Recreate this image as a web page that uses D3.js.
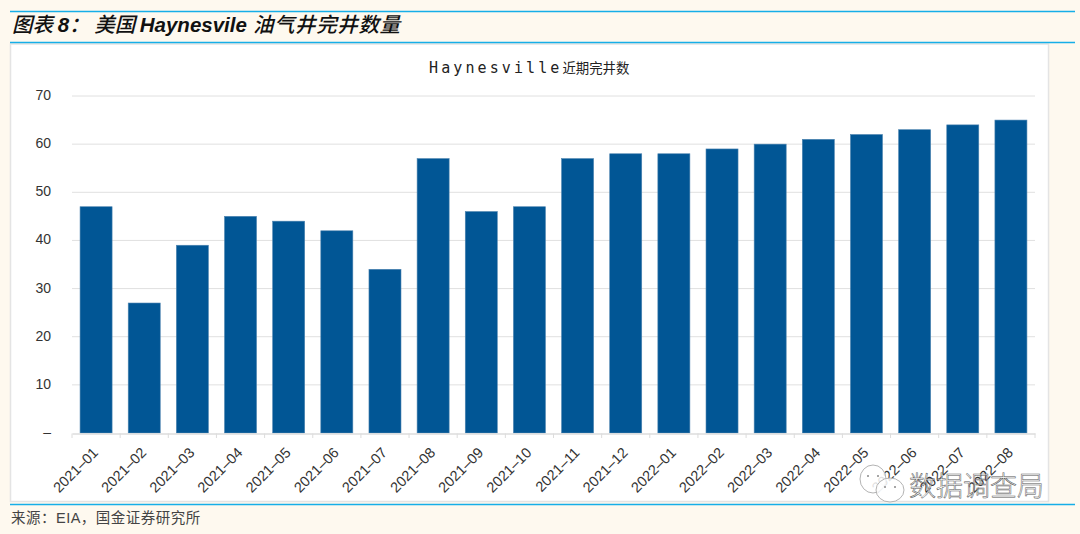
<!DOCTYPE html>
<html><head><meta charset="utf-8">
<script src="https://d3js.org/d3.v7.min.js"></script>
<style>html,body{margin:0;padding:0;background:#fef9ef;overflow:hidden}svg{display:block}</style>
</head><body><div id="c"></div>
<script>
const categories=["2021-01","2021-02","2021-03","2021-04","2021-05","2021-06","2021-07","2021-08","2021-09","2021-10","2021-11","2021-12","2022-01","2022-02","2022-03","2022-04","2022-05","2022-06","2022-07","2022-08"];
const values=[47,27,39,45,44,42,34,57,46,47,57,58,58,59,60,61,62,63,64,65];
const yTicks=[0,10,20,30,40,50,60,70];
const W=1080,H=534;
const CJK='"Noto Sans CJK SC"',LAT='"Liberation Sans"';
const svg=d3.select("#c").append("svg").attr("width",W).attr("height",H);
svg.append("rect").attr("width",W).attr("height",H).attr("fill","#fef9ef");
svg.append("rect").attr("x",10.5).attr("y",44).attr("width",1038).attr("height",457.5).attr("fill","#fff").attr("stroke","#e4e4e4").attr("stroke-width",1.5);
[11.5,42.5,504.5].forEach(y=>svg.append("line").attr("x1",10).attr("x2",1075).attr("y1",y).attr("y2",y).attr("stroke","#16aee8").attr("stroke-width",1.4));

const x=d3.scaleBand().domain(categories).range([72,1035]).paddingInner(0.335).paddingOuter(0.1675);
const y=d3.scaleLinear().domain([0,70]).range([433,96]);

svg.append("g").selectAll("line").data(yTicks.filter(d=>d>0)).join("line")
 .attr("x1",72).attr("x2",1035).attr("y1",d=>y(d)).attr("y2",d=>y(d)).attr("stroke","#e0e0e0").attr("stroke-width",1);

svg.append("g").selectAll("rect").data(values).join("rect")
 .attr("x",(d,i)=>x(categories[i])).attr("y",d=>y(d)).attr("width",x.bandwidth()).attr("height",d=>y(0)-y(d))
 .attr("fill","#015695").attr("stroke","#4d84b0").attr("stroke-width",.6);

const ya=d3.axisLeft(y).tickValues(yTicks).tickSize(0).tickPadding(0).tickFormat(d=>d===0?"–":d);
const gy=svg.append("g").attr("transform","translate(51,-1)").call(ya);
gy.select(".domain").remove();
gy.selectAll("text").attr("font-family",LAT).attr("font-size",14).attr("fill","#333").attr("text-anchor","end");

const xa=d3.axisBottom(x).tickSize(0).tickPadding(0).tickFormat(d=>d.replace("-","–"));
const gx=svg.append("g").attr("transform","translate(0,433.5)").call(xa);
gx.select(".domain").attr("stroke","#dcdcdc").attr("stroke-width",1.3);
const step=x.step();
svg.append("g").selectAll("line").data(d3.range(categories.length+1)).join("line")
 .attr("x1",i=>72+i*step).attr("x2",i=>72+i*step).attr("y1",433.5).attr("y2",438).attr("stroke","#dcdcdc").attr("stroke-width",1);
gx.selectAll("text").attr("font-family",LAT).attr("font-size",14.5).attr("fill","#333")
 .attr("text-anchor","end").attr("dy",0)
 .attr("transform","translate(3,20) rotate(-45)");

const t=svg.append("text").attr("x",429).attr("y",73).attr("fill","#222");
t.append("tspan").attr("font-family",'"DejaVu Sans Mono"').attr("font-size",15).attr("letter-spacing",3.1).text("Haynesville");
t.append("tspan").attr("font-family",CJK).attr("font-size",13.4).text("近期完井数");

const head=svg.append("text").attr("x",12).attr("y",32).attr("font-size",20.5).attr("font-style","italic").attr("fill","#111");
head.append("tspan").attr("font-family",CJK).attr("font-weight",500).text("图表 ");
head.append("tspan").attr("font-family",LAT).attr("font-weight",700).text("8");
head.append("tspan").attr("font-family",CJK).attr("font-weight",500).text("： 美国 ");
head.append("tspan").attr("font-family",LAT).attr("font-weight",700).text("Haynesvile");
head.append("tspan").attr("font-family",CJK).attr("font-weight",500).attr("dx",6).attr("letter-spacing",0.6).text("油气井完井数量");

svg.append("text").attr("x",11).attr("y",523).attr("font-family",LAT+","+CJK).attr("font-size",14.5).attr("letter-spacing",.5).attr("fill","#444").text("来源：EIA，国金证券研究所");

const wm=svg.append("g");
const bubble=(cx,cy,rx,ry)=>{
 wm.append("ellipse").attr("cx",cx).attr("cy",cy).attr("rx",rx).attr("ry",ry).attr("fill","rgba(255,255,255,.85)").attr("stroke","#aaa").attr("stroke-width",.9);
 wm.append("circle").attr("cx",cx-5).attr("cy",cy-3).attr("r",1).attr("fill","#888");
 wm.append("circle").attr("cx",cx+5).attr("cy",cy-3).attr("r",1).attr("fill","#888");
};
bubble(873,479,13,14);bubble(890,490,14,12);
wm.append("text").attr("x",909).attr("y",496).attr("font-family",CJK).attr("font-size",27).attr("font-weight",300).attr("fill","rgba(255,255,255,.55)").attr("stroke","#555").attr("stroke-width",.5).text("数据调查局");
</script></body></html>
